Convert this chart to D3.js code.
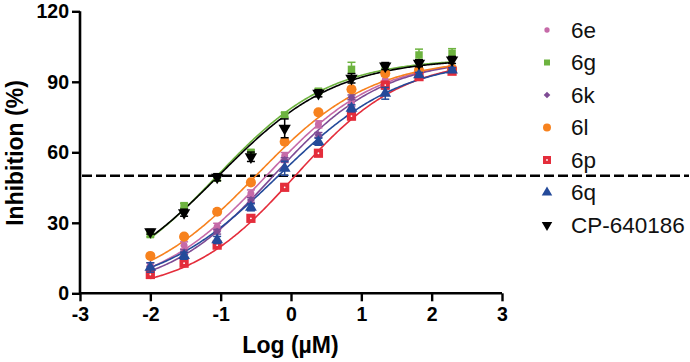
<!DOCTYPE html>
<html>
<head>
<meta charset="utf-8">
<script src="https://cdn.jsdelivr.net/npm/d3@7"></script>
<style>
  body { margin: 0; background: #fff; }
  svg { font-family: "Liberation Sans", Arial, sans-serif; }
</style>
</head>
<body>
<script>
var w = 690;
var h = 362;

// log concentration (µM)
var logConc = [-2, -1.52, -1.05, -0.57, -0.09, 0.39, 0.86, 1.34, 1.82, 2.29];

var names  = ["6e", "6g", "6k", "6l", "6p", "6q", "CP-640186"];
var colors = ["#c66aa8", "#6db33f", "#7e4b94", "#f7821e", "#e42d3b", "#244a9a", "#000000"];

// mean inhibition (%)
var val6e = [12, 20.4, 28.3, 42.5, 58.4, 71.9, 81, 90.8, 94, 95];
var val6g = [25, 37.3, 49, 60, 75.9, 86, 95.3, 96.5, 101.4, 102.1];
var val6k = [10.5, 17.5, 26.2, 39.7, 56.7, 67.4, 83.4, 88, 94, 95];
var val6l = [15.9, 24.1, 34.7, 47.2, 64.5, 77, 86.8, 93.6, 95, 95.5];
var val6p = [8, 12.8, 20.5, 31.9, 45.1, 59.6, 75.4, 88.6, 92.2, 94.5];
var val6q = [11, 16, 22.7, 36.6, 53.2, 64.5, 78.7, 85.1, 93, 95];
var valCP = [26.2, 34.3, 49.4, 58.1, 70.2, 85.1, 91.5, 96.7, 97.9, 99.3];

// error (SD)
var sd6e = [1, 1.5, 1.5, 1.5, 1.5, 1.5, 1.5, 1.5, 1.5, 1];
var sd6g = [1, 1, 1, 1, 1, 1, 3, 1, 2.5, 2];
var sd6k = [1, 1, 1, 1, 1, 1, 1, 1, 1, 1];
var sd6l = [1, 1, 1, 1, 1, 1, 1, 1, 1, 1];
var sd6p = [1, 1, 1, 1, 1, 1, 1.5, 1.5, 1, 1];
var sd6q = [2, 1.5, 1.5, 1.5, 3, 1.5, 1.5, 2.5, 1, 1];
var sdCP = [1, 1.5, 1.5, 2, 4, 1.5, 2, 1.5, 1.5, 1.5];

// sigmoidal fit
var fitLogEC50 = [-0.35, -1.05, -0.25, -0.5, 0.06, -0.18, -1.03];
var fitHill    = [0.55, 0.54, 0.56, 0.53, 0.57, 0.5, 0.52];
var fitTop     = [100, 100, 100, 100, 100, 100, 100];

var yTicks = [0, 30, 60, 90, 120];
var xTicks = [-3, -2, -1, 0, 1, 2, 3];

var values = [val6e, val6g, val6k, val6l, val6p, val6q, valCP];
var sds = [sd6e, sd6g, sd6k, sd6l, sd6p, sd6q, sdCP];

var symbols = [
  {type: d3.symbolCircle, size: 38, rot: 0},
  {type: d3.symbolSquare, size: 56, rot: 0},
  {type: d3.symbolSquare, size: 32, rot: 45},
  {type: d3.symbolCircle, size: 80, rot: 0},
  {type: d3.symbolSquare, size: 85, rot: 0},
  {type: d3.symbolTriangle, size: 60, rot: 0},
  {type: d3.symbolTriangle, size: 66, rot: 180}
];
var legendSymbols = [
  {type: d3.symbolCircle, size: 22, rot: 0},
  {type: d3.symbolSquare, size: 36, rot: 0},
  {type: d3.symbolSquare, size: 22, rot: 45},
  {type: d3.symbolCircle, size: 50, rot: 0},
  {type: d3.symbolSquare, size: 64, rot: 0},
  {type: d3.symbolTriangle, size: 48, rot: 0},
  {type: d3.symbolTriangle, size: 48, rot: 180}
];

var x = d3.scaleLinear().domain([-3, 3]).range([80, 502]);
var y = d3.scaleLinear().domain([0, 120]).range([293.3, 11.3]);

var svg = d3.select("body")
            .append("svg")
            .attr("width", w)
            .attr("height", h);

// 50% dashed line
svg.append("line")
   .attr("x1", x(-3) + 2).attr("x2", 689)
   .attr("y1", y(50)).attr("y2", y(50))
   .attr("stroke", "#000")
   .attr("stroke-width", 2.6)
   .attr("stroke-dasharray", "10,4");

// fitted curves
var line = d3.line()
             .x(d => x(d[0]))
             .y(d => y(d[1]))
             .curve(d3.curveLinear);

var xs = d3.range(logConc[0], logConc[logConc.length - 1] + 0.001, 0.02);

names.forEach((n, i) => {
  var pts = xs.map(v => [v, fitTop[i] / (1 + Math.pow(10, (fitLogEC50[i] - v) * fitHill[i]))]);
  svg.append("path")
     .attr("d", line(pts))
     .attr("fill", "none")
     .attr("stroke", colors[i])
     .attr("stroke-width", 1.6);
});

// points with error bars
names.forEach((n, i) => {
  var g = svg.append("g");
  var pts = logConc.map((c, j) => ({c: c, v: values[i][j], sd: sds[i][j]}));

  g.selectAll("line.err")
   .data(pts)
   .enter()
   .append("line")
   .attr("x1", d => x(d.c)).attr("x2", d => x(d.c))
   .attr("y1", d => y(d.v - d.sd)).attr("y2", d => y(d.v + d.sd))
   .attr("stroke", colors[i])
   .attr("stroke-width", 1.5);

  g.selectAll("line.cap")
   .data(pts.flatMap(d => [d.v - d.sd, d.v + d.sd].map(e => ({c: d.c, e: e}))))
   .enter()
   .append("line")
   .attr("x1", d => x(d.c) - 4).attr("x2", d => x(d.c) + 4)
   .attr("y1", d => y(d.e)).attr("y2", d => y(d.e))
   .attr("stroke", colors[i])
   .attr("stroke-width", 1.5);

  var sym = d3.symbol().type(symbols[i].type).size(symbols[i].size);
  g.selectAll("path")
   .data(pts)
   .enter()
   .append("path")
   .attr("d", sym)
   .attr("transform", d => "translate(" + x(d.c) + "," + y(d.v) + ") rotate(" + symbols[i].rot + ")")
   .attr("fill", colors[i]);

  if (n == "6p") {
    g.selectAll("circle")
     .data(pts)
     .enter()
     .append("circle")
     .attr("cx", d => x(d.c)).attr("cy", d => y(d.v))
     .attr("r", 0.9)
     .attr("fill", "#fff");
  }
});

// axes
var yAxis = d3.axisLeft(y).tickValues(yTicks).tickSize(8).tickPadding(3)
              .tickFormat(d => String(d));
var xAxis = d3.axisBottom(x).tickValues(xTicks).tickSize(8).tickPadding(6)
              .tickFormat(d => String(d));

var gy = svg.append("g").attr("transform", "translate(" + x(-3) + ",0)").call(yAxis);
var gx = svg.append("g").attr("transform", "translate(0," + y(0) + ")").call(xAxis);

[gx, gy].forEach(g => {
  g.select(".domain").attr("stroke-width", 2.6).attr("d",
    g === gx ? "M" + x(-3) + ",0H" + x(3) : "M0," + y(0) + "V" + y(120));
  g.selectAll(".tick line").attr("stroke-width", 2.4);
  g.selectAll(".tick text")
   .attr("font-size", "19.5px")
   .attr("font-weight", "bold")
   .attr("fill", "#000")
   .style("font-family", "'Liberation Sans', Arial, sans-serif");
});

// axis titles
svg.append("text")
   .attr("transform", "translate(23," + 153 + ") rotate(-90)")
   .attr("text-anchor", "middle")
   .attr("font-size", "23px")
   .attr("font-weight", "bold")
   .text("Inhibition (%)");

svg.append("text")
   .attr("x", 290.5)
   .attr("y", 353)
   .attr("text-anchor", "middle")
   .attr("font-size", "23px")
   .attr("font-weight", "bold")
   .text("Log (µM)");

// legend
names.forEach((n, i) => {
  var ly = 30 + i * 32.5;
  var sym = d3.symbol().type(legendSymbols[i].type).size(legendSymbols[i].size);
  svg.append("path")
     .attr("d", sym)
     .attr("transform", "translate(547," + ly + ") rotate(" + legendSymbols[i].rot + ")")
     .attr("fill", colors[i]);
  if (n == "6p") {
    svg.append("circle").attr("cx", 547).attr("cy", ly).attr("r", 0.9).attr("fill", "#fff");
  }
  svg.append("text")
     .attr("x", 571)
     .attr("y", ly + 7.8)
     .attr("font-size", "22.5px")
     .attr("fill", "#111")
     .text(n);
});
</script>
</body>
</html>
